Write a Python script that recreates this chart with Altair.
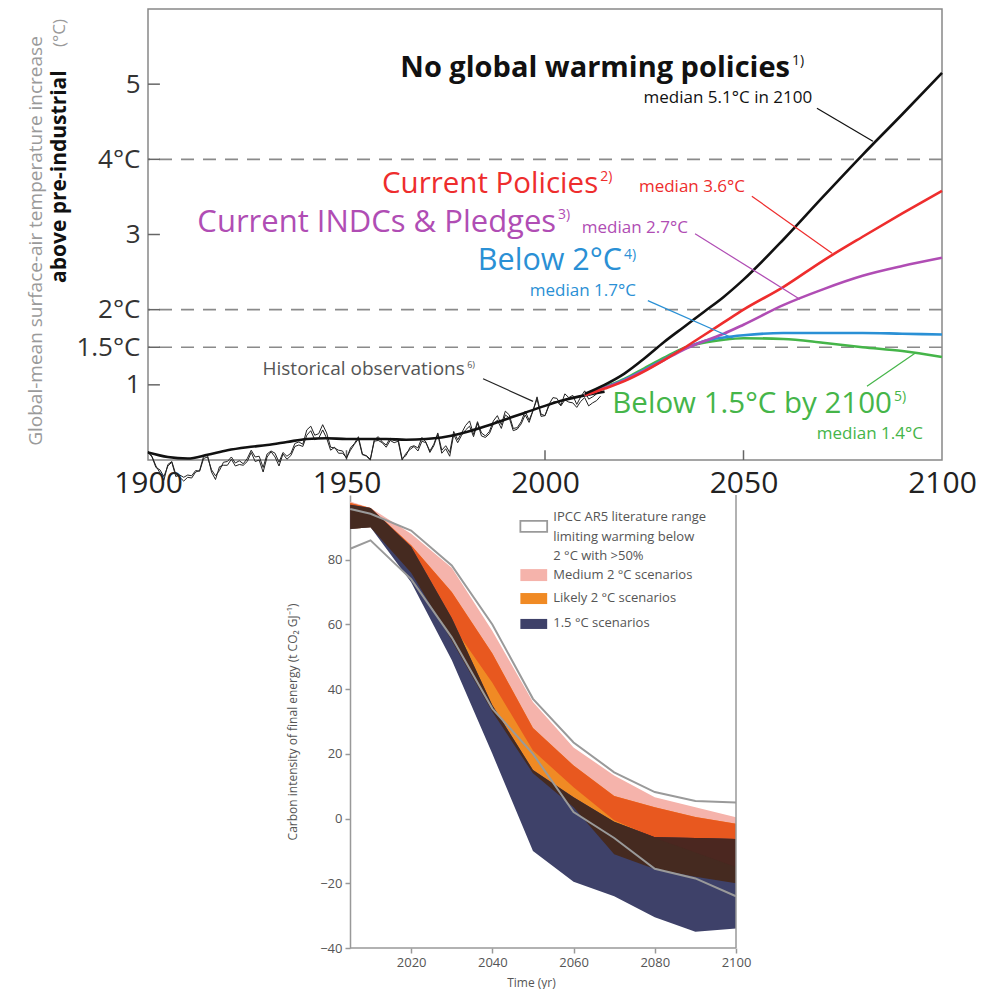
import altair as alt
import pandas as pd

FONT = "Open Sans"
BLACK = "#111111"
RED = "#ee2d2d"
PURPLE = "#b04db4"
BLUE = "#2a90d5"
GREEN = "#45b549"

# ---------------- top panel data ----------------
OBS_YEARS = list(range(1900, 2015))
OBS_A = [0.10, 0.04, -0.10, -0.13, -0.22, -0.08, -0.03, -0.22, -0.20, -0.23,
         -0.20, -0.21, -0.14, -0.15, 0.02, 0.04, -0.13, -0.21, -0.14, -0.03,
         -0.02, 0.04, -0.04, -0.01, -0.05, 0.02, 0.13, 0.04, 0.05, -0.10,
         0.08, 0.12, 0.09, -0.03, 0.10, 0.05, 0.09, 0.22, 0.24, 0.21,
         0.40, 0.45, 0.33, 0.35, 0.47, 0.36, 0.17, 0.16, 0.13, 0.12,
         0.02, 0.16, 0.22, 0.31, 0.08, 0.05, 0.00, 0.27, 0.31, 0.24,
         0.20, 0.29, 0.26, 0.28, 0.02, 0.06, 0.17, 0.19, 0.16, 0.30,
         0.24, 0.10, 0.19, 0.34, 0.09, 0.15, 0.05, 0.34, 0.23, 0.33,
         0.40, 0.45, 0.31, 0.49, 0.32, 0.30, 0.35, 0.48, 0.53, 0.42,
         0.60, 0.56, 0.39, 0.41, 0.48, 0.60, 0.50, 0.66, 0.84, 0.61,
         0.59, 0.72, 0.77, 0.78, 0.72, 0.80, 0.77, 0.76, 0.70, 0.78,
         0.83, 0.72, 0.76, 0.79, 0.85]
OBS_B = [0.12, 0.05, -0.08, -0.17, -0.27, -0.06, -0.02, -0.19, -0.23, -0.28,
         -0.23, -0.24, -0.16, -0.14, 0.05, 0.06, -0.16, -0.26, -0.09, -0.07,
         -0.07, 0.01, -0.08, -0.06, -0.07, -0.02, 0.10, -0.02, 0.00, -0.16,
         0.04, 0.11, 0.04, -0.08, 0.08, 0.01, 0.06, 0.18, 0.20, 0.18,
         0.33, 0.39, 0.27, 0.29, 0.40, 0.29, 0.13, 0.17, 0.09, 0.09,
         0.03, 0.13, 0.21, 0.28, 0.07, 0.06, 0.01, 0.25, 0.26, 0.23,
         0.17, 0.26, 0.23, 0.25, 0.00, 0.09, 0.14, 0.18, 0.12, 0.25,
         0.23, 0.12, 0.21, 0.36, 0.13, 0.19, 0.10, 0.38, 0.27, 0.36,
         0.46, 0.52, 0.34, 0.51, 0.36, 0.32, 0.38, 0.52, 0.59, 0.47,
         0.65, 0.60, 0.42, 0.43, 0.51, 0.65, 0.53, 0.66, 0.81, 0.58,
         0.59, 0.74, 0.83, 0.82, 0.73, 0.88, 0.83, 0.86, 0.74, 0.84,
         0.92, 0.81, 0.84, 0.88, 0.95]
SMOOTH_YEARS = list(range(1900, 2016, 5))
SMOOTH_VALS = [0.10, 0.04, 0.02, 0.07, 0.13, 0.17, 0.20, 0.24, 0.28, 0.29, 0.28, 0.28,
               0.28, 0.27, 0.28, 0.31, 0.37, 0.45, 0.54, 0.63, 0.72, 0.80, 0.86, 0.91]

SCEN_YEARS = [2010, 2015, 2020, 2025, 2030, 2035, 2040, 2045, 2050, 2060, 2070, 2080, 2090, 2100]
NO_POLICY = [0.88, 1.00, 1.15, 1.35, 1.57, 1.77, 1.97, 2.17, 2.40, 2.93, 3.50, 4.06, 4.60, 5.15]
CURRENT_POLICIES = [0.86, 0.95, 1.05, 1.18, 1.33, 1.49, 1.66, 1.83, 2.00, 2.30, 2.65, 2.97, 3.28, 3.58]
INDCS = [0.86, 0.96, 1.06, 1.19, 1.33, 1.47, 1.58, 1.68, 1.80, 2.06, 2.27, 2.45, 2.58, 2.69]
BELOW_2 = [0.86, 0.96, 1.07, 1.20, 1.34, 1.48, 1.58, 1.63, 1.66, 1.69, 1.69, 1.69, 1.68, 1.67]
BELOW_15 = [0.86, 0.97, 1.08, 1.22, 1.36, 1.49, 1.56, 1.60, 1.62, 1.61, 1.56, 1.50, 1.45, 1.37]

DASH_LEVELS = [4, 2, 1.5]
Y_TICKS = [1, 1.5, 2, 3, 4, 5]
X_TICKS = [1900, 1950, 2000, 2050, 2100]
X_INNER_TICKS = [1950, 2000, 2050]

MAIN_LABELS = ["Current Policies", "Current INDCs & Pledges", "Below 2°C", "Below 1.5°C by 2100"]
MAIN_X = [2013.4, 2002.8, 2019.4, 2087.4]
MAIN_Y = [3.67, 3.15, 2.65, 0.745]
MAIN_SIZES = [29.5, 31, 30.5, 29.5]
MAIN_COLORS = [RED, PURPLE, BLUE, GREEN]
TITLE_LABEL = "No global warming policies"
TITLE_X = 2061.7
TITLE_Y = 5.21
SUP_LABELS = ["1)", "2)", "3)", "4)", "5)"]
SUP_X = [2062.2, 2013.9, 2003.3, 2019.9, 2087.9]
SUP_Y = [5.31, 3.76, 3.26, 2.73, 0.84]
MED_LABELS = ["median 5.1°C in 2100", "median 3.6°C", "median 2.7°C", "median 1.7°C", "median 1.4°C"]
MED_X = [2067.3, 2050.4, 2036.0, 2022.9, 2095.2]
MED_Y = [4.82, 3.63, 3.09, 2.25, 0.35]
LABEL_COLORS = [BLACK, RED, PURPLE, BLUE, GREEN]

PTR_X1 = [2068.5, 2052.1, 2037.8, 2025.9, 2081.1, 1984.4]
PTR_Y1 = [4.68, 3.51, 3.01, 2.12, 0.98, 1.08]
PTR_X2 = [2082.6, 2072.3, 2064.2, 2047.4, 2093.2, 1997.0]
PTR_Y2 = [4.24, 2.75, 2.14, 1.62, 1.42, 0.78]
PTR_COLORS = [BLACK, RED, PURPLE, BLUE, GREEN, "#222222"]

# ---------------- bottom panel data ----------------
CI_YEARS = [2005, 2010, 2020, 2030, 2040, 2050, 2060, 2070, 2080, 2090, 2100]
MEDIUM_UPPER = [98.0, 96.0, 88.0, 77.5, 58.0, 36.0, 22.0, 13.3, 6.6, 3.5, 0.4]
MEDIUM_LOWER = [90.0, 91.0, 78.0, 60.0, 42.0, 21.0, 9.7, -0.5, -6.0, -10.5, -15.0]
LIKELY_UPPER = [97.5, 96.0, 84.5, 70.0, 51.0, 28.0, 16.4, 7.0, 3.5, 0.5, -1.6]
LIKELY_LOWER = [89.5, 90.0, 76.0, 55.0, 33.0, 14.0, 3.5, -11.0, -15.6, -18.0, -20.0]
S15_UPPER = [97.0, 96.0, 84.0, 62.0, 35.0, 15.0, 6.6, -1.0, -5.8, -6.0, -6.3]
S15_LOWER = [89.5, 90.0, 73.0, 49.0, 20.0, -10.0, -19.5, -24.0, -30.5, -35.0, -34.0]
# overlap of medium & likely (read as the red-orange region)
OVL_MED_LIK_UPPER = [97.5, 96.0, 84.5, 70.0, 51.0, 28.0, 16.4, 7.0, 3.5, 0.5, -1.6]
OVL_MED_LIK_LOWER = [90.0, 91.0, 78.0, 60.0, 42.0, 21.0, 9.7, -0.5, -6.0, -10.5, -15.0]
# overlap of likely & 1.5 (read as the dark brown region)
OVL_LIK_S15_UPPER = [97.0, 96.0, 84.0, 62.0, 35.0, 15.0, 6.6, -1.0, -5.8, -6.0, -6.3]
OVL_LIK_S15_LOWER = [89.5, 90.0, 76.0, 55.0, 33.0, 14.0, 3.5, -11.0, -15.6, -18.0, -20.0]
# overlap of all three (darker brown wedge at the right)
OVL3_YEARS = [2070, 2080, 2090, 2100]
OVL3_UPPER = [-1.0, -5.8, -6.0, -6.3]
OVL3_LOWER = [-1.0, -6.0, -10.5, -15.0]
IPCC_UPPER = [95.7, 94.2, 89.0, 78.2, 60.0, 37.0, 23.5, 14.3, 8.2, 5.4, 5.0]
IPCC_LOWER = [83.4, 86.0, 74.0, 56.0, 34.0, 20.0, 2.0, -6.0, -15.5, -18.5, -24.0]

PINK = "#f5b3ab"
ORANGE = "#f08a24"
REDORANGE = "#e8581f"
NAVY = "#3e4169"
BROWN = "#452a20"
DARKBROWN = "#4b2720"

LEG_TEXT = ["IPCC AR5 literature range", "limiting warming below", "2 °C with >50%",
            "Medium 2 °C scenarios", "Likely 2 °C scenarios", "1.5 °C scenarios"]
LEG_TEXT_Y = [93.3, 87.1, 81.2, 75.3, 68.2, 60.5]
LEG_TEXT_X = 2055.0
LEG_BOX_X1 = 2046.9
LEG_BOX_X2 = 2053.5
LEG_BOX_Y1 = [92.0, 77.1, 69.7, 61.7]
LEG_BOX_Y2 = [88.6, 73.4, 66.3, 58.6]
LEG_BOX_FILL = ["#ffffff", PINK, ORANGE, NAVY]

# ---------------- top panel ----------------
XT = alt.X("x:Q", scale=alt.Scale(domain=[1900, 2100], nice=False, zero=False),
           axis=alt.Axis(values=X_TICKS, format="d", ticks=False, domain=False, grid=False,
                         labelFontSize=30, labelColor="#222", labelPadding=8, labelFlush=False,
                         labelOverlap=False, title=None, labelFont=FONT))
YT = alt.Y("y:Q", scale=alt.Scale(domain=[0, 6], nice=False, zero=False),
           axis=alt.Axis(values=Y_TICKS, ticks=False, domain=False, grid=False,
                         labelExpr="datum.value == 1.5 ? '1.5°C' : (datum.value == 2 ? '2°C' : (datum.value == 4 ? '4°C' : format(datum.value, 'd')))",
                         labelFontSize=26, labelColor="#333", labelPadding=8, labelOverlap=False,
                         title=None, labelFont=FONT))

dash = alt.Chart(pd.DataFrame({"y": DASH_LEVELS})).mark_rule(
    color="#8a8a8a", strokeWidth=1.6, strokeDash=[13, 9]).encode(y=YT)

ytick = alt.Chart(pd.DataFrame({"x": [1900] * len(Y_TICKS), "x2": [1903] * len(Y_TICKS), "y": Y_TICKS})
                  ).mark_rule(color="#666", strokeWidth=1.5).encode(x=XT, x2="x2:Q", y=YT)
xtick = alt.Chart(pd.DataFrame({"x": X_INNER_TICKS, "y": [0] * 3, "y2": [0.13] * 3})
                  ).mark_rule(color="#666", strokeWidth=1.5).encode(x=XT, y=YT, y2="y2:Q")

obs_df = pd.concat([
    pd.DataFrame({"x": OBS_YEARS, "y": OBS_A, "s": "A"}),
    pd.DataFrame({"x": OBS_YEARS, "y": OBS_B, "s": "B"}),
])
obs = alt.Chart(obs_df).mark_line(color="#222", strokeWidth=1).encode(x=XT, y=YT, detail="s:N")
smooth = alt.Chart(pd.DataFrame({"x": SMOOTH_YEARS, "y": SMOOTH_VALS})).mark_line(
    color="#111", strokeWidth=2.6, interpolate="monotone").encode(x=XT, y=YT)

scen_layers = []
for vals, col in [(BELOW_15, GREEN), (BELOW_2, BLUE), (INDCS, PURPLE), (CURRENT_POLICIES, RED), (NO_POLICY, BLACK)]:
    scen_layers.append(
        alt.Chart(pd.DataFrame({"x": SCEN_YEARS, "y": vals})).mark_line(
            color=col, strokeWidth=2.6, interpolate="monotone").encode(x=XT, y=YT))

ptr = alt.Chart(pd.DataFrame({"x": PTR_X1, "y": PTR_Y1, "x2": PTR_X2, "y2": PTR_Y2, "c": PTR_COLORS})
                ).mark_rule(strokeWidth=1.2).encode(
    x=XT, y=YT, x2="x2:Q", y2="y2:Q", color=alt.Color("c:N", scale=None))

title_txt = alt.Chart(pd.DataFrame({"x": [TITLE_X], "y": [TITLE_Y], "t": [TITLE_LABEL]})).mark_text(
    align="right", baseline="middle", fontSize=29, fontWeight="bold", color=BLACK, font=FONT).encode(
    x=XT, y=YT, text="t:N")
main_df = pd.DataFrame({"x": MAIN_X, "y": MAIN_Y, "t": MAIN_LABELS, "c": MAIN_COLORS, "s": MAIN_SIZES})
main_txt = alt.Chart(main_df).mark_text(align="right", baseline="middle", font=FONT).encode(
    x=XT, y=YT, text="t:N", color=alt.Color("c:N", scale=None), size=alt.Size("s:Q", scale=None))
sup_df = pd.DataFrame({"x": SUP_X, "y": SUP_Y, "t": SUP_LABELS, "c": LABEL_COLORS})
sup_txt = alt.Chart(sup_df).mark_text(align="left", baseline="middle", fontSize=14, font=FONT).encode(
    x=XT, y=YT, text="t:N", color=alt.Color("c:N", scale=None))
med_df = pd.DataFrame({"x": MED_X, "y": MED_Y, "t": MED_LABELS, "c": LABEL_COLORS})
med_txt = alt.Chart(med_df).mark_text(align="right", baseline="middle", fontSize=17, font=FONT).encode(
    x=XT, y=YT, text="t:N", color=alt.Color("c:N", scale=None))
hist_txt = alt.Chart(pd.DataFrame({"x": [1979.8], "y": [1.21], "t": ["Historical observations"]})).mark_text(
    align="right", baseline="middle", fontSize=19, color="#555", font=FONT).encode(x=XT, y=YT, text="t:N")
hist_sup = alt.Chart(pd.DataFrame({"x": [1980.4], "y": [1.26], "t": ["6)"]})).mark_text(
    align="left", baseline="middle", fontSize=9, color="#555", font=FONT).encode(x=XT, y=YT, text="t:N")

one = pd.DataFrame({"a": [0]})
yt1 = alt.Chart(one).mark_text(angle=270, baseline="middle", align="center", fontSize=19,
                               color="#9a9a9a", font=FONT, text="Global-mean surface-air temperature increase"
                               ).encode(x=alt.value(-112), y=alt.value(232))
yt2 = alt.Chart(one).mark_text(angle=270, baseline="middle", align="left", fontSize=21, fontWeight="bold",
                               color="#111", font=FONT, text="above pre-industrial"
                               ).encode(x=alt.value(-88), y=alt.value(274))
yt3 = alt.Chart(one).mark_text(angle=270, baseline="middle", align="right", fontSize=17,
                               color="#9a9a9a", font=FONT, text="(°C)"
                               ).encode(x=alt.value(-88), y=alt.value(10))

top = alt.layer(dash, ytick, xtick, obs, smooth, *scen_layers, ptr, title_txt, main_txt, sup_txt, med_txt,
                hist_txt, hist_sup, yt1, yt2, yt3).properties(
    width=794, height=451, view=alt.ViewBackground(stroke="#888", strokeWidth=1.5))

# ---------------- bottom panel ----------------
XB = alt.X("x:Q", scale=alt.Scale(domain=[1955.2, 2100], nice=False, zero=False),
           axis=alt.Axis(values=[2020, 2040, 2060, 2080, 2100], format="d", domain=False, grid=False,
                         tickColor="#999", tickSize=5, tickWidth=1.5, labelFontSize=13, labelColor="#555",
                         labelPadding=3, labelFlush=False, labelFont=FONT,
                         title="Time (yr)", titleFontSize=12, titleFontWeight="normal", titleFont=FONT,
                         titleColor="#555", titlePadding=8, titleX=383))
YB = alt.Y("y:Q", scale=alt.Scale(domain=[-40, 100], nice=False, zero=False),
           axis=alt.Axis(values=[-40, -20, 0, 20, 40, 60, 80], offset=-202, grid=False,
                         domainColor="#999", domainWidth=1.5, tickColor="#999", tickSize=5, tickWidth=1.5,
                         labelFontSize=13, labelColor="#555", labelPadding=3, labelFont=FONT,
                         title="Carbon intensity of final energy (t CO₂ GJ⁻¹)", titleFontSize=12,
                         titleFontWeight="normal", titleColor="#555", titlePadding=20, titleFont=FONT))


def band(years, lower, upper, color):
    return alt.Chart(pd.DataFrame({"x": years, "y": lower, "y2": upper})).mark_area(
        color=color).encode(x=XB, y=YB, y2="y2:Q")


bands = [
    band(CI_YEARS, MEDIUM_LOWER, MEDIUM_UPPER, PINK),
    band(CI_YEARS, LIKELY_LOWER, LIKELY_UPPER, ORANGE),
    band(CI_YEARS, OVL_MED_LIK_LOWER, OVL_MED_LIK_UPPER, REDORANGE),
    band(CI_YEARS, S15_LOWER, S15_UPPER, NAVY),
    band(CI_YEARS, OVL_LIK_S15_LOWER, OVL_LIK_S15_UPPER, BROWN),
    band(OVL3_YEARS, OVL3_LOWER, OVL3_UPPER, DARKBROWN),
]

ipcc_df = pd.concat([
    pd.DataFrame({"x": CI_YEARS, "y": IPCC_UPPER, "s": "upper"}),
    pd.DataFrame({"x": CI_YEARS, "y": IPCC_LOWER, "s": "lower"}),
])
ipcc = alt.Chart(ipcc_df).mark_line(color="#9a9a9a", strokeWidth=2).encode(x=XB, y=YB, detail="s:N")

base_rule = alt.Chart(pd.DataFrame({"x": [2005], "x2": [2100], "y": [-40]})).mark_rule(
    color="#999", strokeWidth=1.5).encode(x=XB, x2="x2:Q", y=YB)
right_rule = alt.Chart(pd.DataFrame({"x": [2100], "y": [-40], "y2": [100]})).mark_rule(
    color="#999", strokeWidth=1.5).encode(x=XB, y=YB, y2="y2:Q")

box_df = pd.DataFrame({"x": [LEG_BOX_X1] * 4, "x2": [LEG_BOX_X2] * 4, "y": LEG_BOX_Y1,
                       "y2": LEG_BOX_Y2, "c": LEG_BOX_FILL})
boxes = alt.Chart(box_df.iloc[1:]).mark_rect().encode(
    x=XB, x2="x2:Q", y=YB, y2="y2:Q", color=alt.Color("c:N", scale=None))
ipcc_box = alt.Chart(box_df.iloc[:1]).mark_rect(fill="#ffffff", stroke="#9a9a9a", strokeWidth=1.8).encode(
    x=XB, x2="x2:Q", y=YB, y2="y2:Q")
leg_txt = alt.Chart(pd.DataFrame({"x": [LEG_TEXT_X] * len(LEG_TEXT), "y": LEG_TEXT_Y, "t": LEG_TEXT})
                    ).mark_text(align="left", baseline="middle", fontSize=13, color="#555", font=FONT
                                ).encode(x=XB, y=YB, text="t:N")

bottom = alt.layer(*bands, ipcc, base_rule, right_rule, boxes, ipcc_box, leg_txt).properties(
    width=588, height=453)

chart = alt.vconcat(top, bottom, spacing=35, bounds="flush").properties(
    padding={"left": 18, "top": 0, "right": 5, "bottom": 0}
).configure(font=FONT).configure_view(stroke="transparent")

chart.save("out.html", embed_options={"renderer": "svg", "actions": False})
